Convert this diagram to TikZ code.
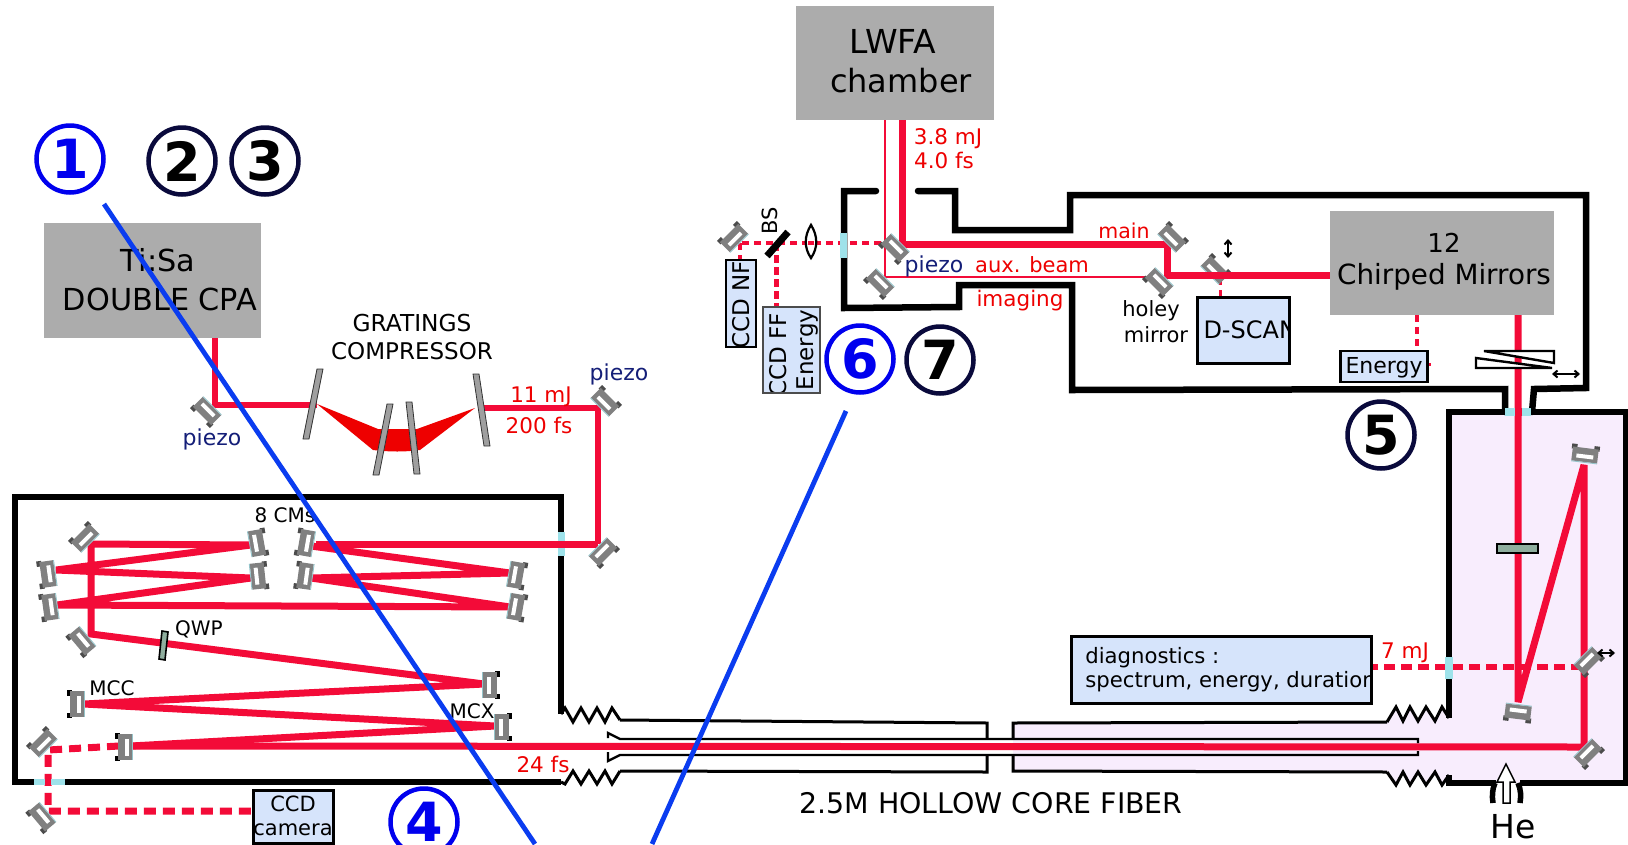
\documentclass[tikz,border=0pt]{standalone}
\usepackage{fontspec}
\setmainfont{DejaVu Sans}
\usetikzlibrary{arrows.meta,calc}
\definecolor{beam}{HTML}{F30B38}
\definecolor{lab}{HTML}{EE0000}
\definecolor{navy}{HTML}{141E78}
\definecolor{boxgray}{HTML}{ACACAC}
\definecolor{info}{HTML}{D6E4FB}
\definecolor{win}{HTML}{9EE2EA}
\definecolor{lilac}{HTML}{F8EDFD}
\definecolor{blueln}{HTML}{0A3CF0}
\definecolor{bluec}{HTML}{0000EE}
\definecolor{darkc}{HTML}{0A0A3C}
\definecolor{plate}{HTML}{8FAE9E}
\newcommand{\fs}[1]{\fontsize{#1}{#1}\selectfont}
\newcommand{\mirrorbody}[1]{
  \fill[#1] (-10,-14) rectangle (-5,-8.5);
  \fill[#1] (-10,8.5) rectangle (-5,14);
  \fill[black!50] (-7,-13) rectangle (7,13);
  \fill[white] (-0.5,-8.5) rectangle (3.5,8.5);
  \draw[win!70!gray,line width=0.9pt] (7.4,-13) -- (7.4,13);
}
\tikzset{
  mirror/.pic={\mirrorbody{black!70}},
  mirrorb/.pic={\mirrorbody{black}},
  thickbeam/.style={draw=beam,line width=7pt,line cap=butt,line join=miter,miter limit=2},
  midbeam/.style={draw=beam,line width=6pt},
  thinbeam/.style={draw=beam,line width=2.6pt},
  dashbeam/.style={draw=beam,line width=7pt,dash pattern=on 12pt off 7pt},
  dashmid/.style={draw=beam,line width=5.5pt,dash pattern=on 11pt off 6pt},
  dashthin/.style={draw=beam,line width=3.8pt,dash pattern=on 7pt off 5pt},
  wall/.style={draw=black,line width=6.5pt,line cap=round,line join=miter},
  bellow/.style={draw=black,line width=3pt,line join=miter},
  tube/.style={draw=black,line width=2.4pt,line join=miter},
  window/.style={fill=win,draw=none},
  graybox/.style={fill=boxgray,draw=none,inner sep=0pt,align=center},
  infobox/.style={fill=info,draw=black,line width=3pt,inner sep=0pt,rectangle},
  boxtext/.style={inner sep=0pt,align=center,text=black},
  redtext/.style={text=lab,inner sep=0pt,font=\fs{21.5}},
  blacktext/.style={text=black,inner sep=0pt,align=center},
  navytext/.style={text=navy,inner sep=0pt,font=\fs{22}},
  grating/.style={fill=gray!75,draw=black!80,line width=0.8pt},
  bluecirc/.style={circle,draw=bluec,line width=4.5pt,minimum size=67pt,inner sep=0pt,text=bluec,font=\bfseries\fs{54}},
  darkcirc/.style={circle,draw=darkc,line width=4.5pt,minimum size=67pt,inner sep=0pt,text=black,font=\bfseries\fs{54}},
  blueline/.style={draw=blueln,line width=4.8pt},
  dbl/.style={draw=black,line width=2pt,{Straight Barb[length=4pt,width=7pt]}-{Straight Barb[length=4pt,width=7pt]}},
}
\newcommand{\mir}[5][mirror]{\coordinate (#2) at (#3,#4); \pic[rotate=#5] at (#2) {#1};}
\begin{document}
\begin{tikzpicture}[x=1pt,y=-1pt]
\useasboundingbox (0,0) rectangle (1628,844);
\fill[white] (0,0) rectangle (1628,844);

% ---- lilac chamber fill ----
\fill[lilac] (1449,412) -- (1626,412) -- (1626,783) -- (1449,783) -- (1449,775) -- (1442,785) -- (1435,772) -- (1426,785) -- (1418,772) -- (1410,785) -- (1403,772) -- (1396,785) -- (1387,772) -- (1013,771) -- (1013,723) -- (1387,722) -- (1396,707) -- (1403,721) -- (1410,707) -- (1418,721) -- (1426,707) -- (1435,721) -- (1442,707) -- (1449,718) -- cycle;

% ---- boxes ----
\node[graybox,minimum width=198pt,minimum height=114pt] (lwfa) at (895,63) {};
\node[graybox,minimum width=217pt,minimum height=115pt] (tisa) at (152.5,280.5) {};
\node[graybox,minimum width=224pt,minimum height=104pt] (cm12) at (1442,263) {};

% ---- beam vertex coordinates ----
\coordinate (pA) at (215,405);
\coordinate (g1) at (317,405);
\coordinate (g4) at (482,408);
\coordinate (pB) at (598,408);
\coordinate (pC) at (598,544);
\coordinate (w1) at (316,544);
\coordinate (c3) at (311,546);
\coordinate (c7) at (510,573);
\coordinate (c6) at (311,578);
\coordinate (c9) at (510,607);
\coordinate (c8) at (57,605);
\coordinate (c5) at (251,578);
\coordinate (c4) at (56,570);
\coordinate (c2) at (251,545);
\coordinate (c1) at (91,544);
\coordinate (c10) at (91,634);
\coordinate (x1) at (484,684);
\coordinate (mc) at (84,704);
\coordinate (x2) at (495,726);
\coordinate (f0) at (131,746);
\coordinate (f1) at (1584,747);
\coordinate (r1) at (1584,465);
\coordinate (r2) at (1518,702);
\coordinate (u1) at (902,244);
\coordinate (u2) at (1167,244);
\coordinate (u3) at (1167,275);
\coordinate (t1) at (885,277);
\coordinate (t2) at (1162,277);
\coordinate (d0) at (742,243);
\coordinate (d1) at (893,243);
\coordinate (d2) at (740,243);
\coordinate (d3) at (776,243);
\coordinate (e1) at (119,746);
\coordinate (e2) at (48,750);
\coordinate (e3) at (48,811);
\coordinate (g7a) at (1371,667);
\coordinate (g7b) at (1582,667);

% ---- info boxes (drawn later) need names for connectors ----
\node[infobox,minimum width=80pt,minimum height=53pt] (ccdcam) at (293,816.5)
  [path picture={\node[boxtext,font=\fs{21},text width=90pt] at ([xshift=0pt,yshift=1pt]path picture bounding box.center) {CCD\\[3pt]camera};}] {};

% ---- beams ----
\draw[midbeam] (tisa.south -| pA) -- (pA) -- (g1);
\draw[midbeam] (g4) -- (pB) -- (pC);
\draw[thickbeam] (pC) -- (w1);
\draw[thickbeam] (c3) -- (c7) -- (c6) -- (c9) -- (c8) -- (c5) -- (c4) -- (c2) -- (c1) -- (c10) -- (x1) -- (mc) -- (x2) -- (f0);
\draw[thickbeam] (f0) -- (f1) -- (r1) -- (r2) -- (r2 |- cm12.south);
\draw[dashbeam] (e1) -- (e2) -- (e3) -- (e3 -| ccdcam.west);
\draw[dashmid] (g7b) -- (g7a);
\draw[dashthin] (d1) -- (d0);
\draw[dashthin] (d2) -- (740,262);
\draw[draw=beam,line width=5pt,dash pattern=on 8pt off 4pt] (d3) -- (776,308);
\draw[thinbeam] (lwfa.south -| t1) -- (t1) -- (t2);
\draw[thickbeam] (lwfa.south -| u1) -- (u1) -- (u2) -- (u3) -- (u3 -| cm12.west);
\draw[dashthin] (1417,315) -- (1417,351);
\draw[dashthin,line width=3pt] (1220,278) -- (1220,297);

% ---- compressor ----
\fill[lab] (317,404) -- (378,429) -- (417,429) -- (475,408) -- (420,450) .. controls (405,452) and (390,452) .. (373,450) -- cycle;
\draw[grating] (323,369) -- (317,369) -- (303,439) -- (309,439) -- cycle;
\draw[grating] (393,404) -- (387,404) -- (373,475) -- (379,475) -- cycle;
\draw[grating] (412,402) -- (406,402) -- (414,474) -- (420,474) -- cycle;
\draw[grating] (479,374) -- (473,374) -- (484,446) -- (490,446) -- cycle;

% ---- mirrors ----
\mir{mPa}{207}{411}{45}
\mir{mPb}{605}{402}{225}
\mir{mW}{603}{552}{135}
\mir{mA}{85}{538}{-45}
\mir{mB}{257}{543}{190}
\mir{mC}{306}{543}{-10}
\mir{mD}{48}{574}{8}
\mir{mE}{258}{576}{186}
\mir{mF}{305}{576}{-8}
\mir{mG}{516}{575}{170}
\mir{mH}{50}{607}{8}
\mir{mI}{516}{607}{170}
\mir{mJ}{82}{641}{40}
\mir[mirrorb]{mK}{77}{704}{0}
\mir[mirrorb]{mL}{490}{685}{180}
\mir[mirrorb]{mM}{502}{727}{180}
\mir[mirrorb]{mN}{125}{747}{0}
\mir{mO}{43}{743}{-45}
\mir{mP}{42}{817}{40}
\mir{mQ}{734}{238}{-45}
\mir{mR}{895}{248}{45}
\mir{mS}{880}{283}{45}
\mir{mT}{1172}{238}{225}
\mir{mU}{1159}{282}{45}
\mir{mV}{1215}{270}{225}
\draw[thickbeam] (1195,275) -- (1240,275);
\mir{mX}{1585}{455}{-97}
\mir{mY}{1518}{712}{83}
\mir{mZ}{1588}{661}{135}
\mir{mAA}{1588}{753}{135}

% ---- small optics ----
\draw[draw=black,fill=plate,line width=1.6pt] (163,645) ++(-1,-14) -- ++(6,1) -- ++(-3,28) -- ++(-6,-1) -- cycle;
\draw[black,fill=plate,line width=2.4pt] (1497,544) rectangle (1538,553);
\draw[black,line width=7pt] (767,256) -- (788,232);
\draw[black,fill=white,line width=2.2pt] (811,225) .. controls (804,236) and (804,248) .. (811,258) .. controls (818,248) and (818,236) .. (811,225) -- cycle;
\fill[black] (811,225) circle (1.4);
\fill[black] (811,258) circle (1.4);
\draw[dashthin] (808,243) -- (814,243);
% wedges
\draw[black,fill=white,line width=2.4pt] (1484,351) -- (1554,351) -- (1554,363) -- cycle;
\draw[black,fill=white,line width=2.4pt] (1476,358) -- (1476,368) -- (1552,368) -- cycle;
\draw[dbl] (1552,374) -- (1580,374);
\draw[dbl] (1597,653) -- (1615,653);
\draw[dbl] (1228,239) -- (1228,258);

% ---- fiber ----
\draw[bellow] (561,714) -- (565,708) -- (573,722) -- (581,708) -- (589,722) -- (597,708) -- (605,722) -- (612,708) -- (620,720);
\draw[bellow] (561,782) -- (565,784) -- (573,771) -- (581,784) -- (589,771) -- (597,784) -- (605,771) -- (612,784) -- (620,771);
\draw[tube,line width=3pt] (620,720) -- (987,723) -- (987,739);
\draw[tube,line width=3pt] (620,771) -- (987,772) -- (987,755);
\draw[tube] (608,738) -- (608,733) -- (620,739) -- (1418,739) -- (1418,743);
\draw[tube] (608,752) -- (608,761) -- (620,755) -- (1418,755) -- (1418,751);
\draw[tube,line width=3pt] (1387,722) -- (1013,723) -- (1013,739);
\draw[tube,line width=3pt] (1387,772) -- (1013,771) -- (1013,755);
\draw[bellow] (1387,722) -- (1396,707) -- (1403,721) -- (1410,707) -- (1418,721) -- (1426,707) -- (1435,721) -- (1442,707) -- (1449,718);
\draw[bellow] (1387,772) -- (1396,785) -- (1403,772) -- (1410,785) -- (1418,772) -- (1426,785) -- (1435,772) -- (1442,785) -- (1449,775);

% ---- chamber walls ----
\draw[wall,line cap=butt] (561,714) -- (561,497) -- (15,497) -- (15,782) -- (561,782);
\draw[wall] (876,191) -- (844,191) -- (844,308) -- (959,307) -- (959,285) -- (1072,285) -- (1072,390) -- (1505,389) -- (1505,412);
\draw[wall] (918,191) -- (955,191) -- (955,230) -- (1070,230) -- (1070,195) -- (1586,195) -- (1586,388) -- (1534,389) -- (1532,412);
\draw[wall,line cap=butt] (1449,718) -- (1449,412) -- (1626,412) -- (1626,783) -- (1520,783);
\draw[wall,line cap=butt] (1496,783) -- (1449,783) -- (1449,775);
\draw[black,line width=5.5pt] (1495,783) .. controls (1492,790) and (1492,796) .. (1493,803);
\draw[black,line width=5.5pt] (1518,783) .. controls (1521,790) and (1521,796) .. (1520,803);
\draw[black,fill=white,line width=1.5pt] (1506,764) -- (1515,782) -- (1510,782) -- (1510,803) -- (1503,803) -- (1503,782) -- (1497,782) -- cycle;

% ---- windows ----
\fill[window] (558,532) rectangle (565,556);
\fill[window] (34,779) rectangle (65,785);
\fill[window] (840,233) rectangle (847,258);
\fill[window] (1505,408) rectangle (1531,416);
\fill[window] (1445,657) rectangle (1453,679);
\draw[draw=beam,line width=5.5pt] (1453,667) -- (1461,667);
\draw[draw=beam,line width=6pt,dash pattern=on 11pt off 6pt] (47.5,775) -- (47.5,790);
\draw[thickbeam] (1518,408) -- (1518,416);
\draw[thickbeam] (558,544) -- (565,544);

% ---- info boxes ----
\node[infobox,minimum width=92pt,minimum height=66pt] (dscan) at (1243,330)
  [path picture={\node[boxtext,font=\fs{24},anchor=west] at ([xshift=5pt]path picture bounding box.west) {D-SCAN};}] {};
\draw[dashthin,line width=3pt] (1428,364) -- (1431,364);
\node[infobox,line width=2.6pt,minimum width=87pt,minimum height=31pt] (energy) at (1384,366.5)
  [path picture={\node[boxtext,font=\fs{22}] at ([yshift=-1pt]path picture bounding box.center) {Energy};}] {};
\node[infobox,minimum width=300pt,minimum height=67pt] (diag) at (1221,669.5)
  [path picture={\node[boxtext,font=\fs{21.2},align=left,anchor=west] at ([xshift=8pt]path picture bounding box.west) {diagnostics :\\[3pt]spectrum, energy, duration};}] {};
\node[infobox,line width=2.6pt,minimum width=30pt,minimum height=87pt] (ccdnf) at (741,303.5)
  [path picture={\node[boxtext,font=\fs{23},rotate=90,anchor=west] at ([yshift=-3pt]path picture bounding box.south) {CCD NF};}] {};
\node[infobox,line width=2.6pt,minimum width=57pt,minimum height=86pt,draw=black!70] (ccdff) at (791.5,350)
  [path picture={\node[boxtext,font=\fs{23},rotate=90,anchor=west] at ([xshift=-13pt,yshift=-5pt]path picture bounding box.south) {CCD FF};
                 \node[boxtext,font=\fs{23},rotate=90] at ([xshift=16pt]path picture bounding box.center) {Energy};}] {};

% ---- texts ----
\node[blacktext,font=\fs{33}] (tlwfa) at (893,41) {LWFA};
\node[blacktext,font=\fs{32}] (tchamb) at (901,81) {chamber};
\node[blacktext,font=\fs{30.3}] (ttisa) at (158,260) {Ti:Sa};
\node[blacktext,font=\fs{30.3}] (tcpa) at (160,299) {DOUBLE CPA};
\node[blacktext,font=\fs{26}] (t12) at (1444,243) {12};
\node[blacktext,font=\fs{27.8}] (tcm) at (1444,277) {Chirped Mirrors};
\node[blacktext,font=\fs{23.3}] (tgr) at (412,323) {GRATINGS};
\node[blacktext,font=\fs{23}] (tcomp) at (412,351) {COMPRESSOR};
\node[blacktext,font=\fs{20}] (t8cm) at (285,515) {8 CMs};
\node[blacktext,font=\fs{20}] (tqwp) at (199,629) {QWP};
\node[blacktext,font=\fs{20}] (tmcc) at (112,688) {MCC};
\node[blacktext,font=\fs{20}] (tmcx) at (472,711) {MCX};
\node[blacktext,font=\fs{21},rotate=90] (tbs) at (770,221) {BS};
\node[blacktext,font=\fs{21}] (thol) at (1151,311) {holey};
\node[blacktext,font=\fs{21}] (tmir) at (1156,335) {mirror};
\node[blacktext,font=\fs{28.4}] (tfib) at (991,803) {2.5M HOLLOW CORE FIBER};
\node[blacktext,font=\fs{33}] (the) at (1513,827) {He};
\node[navytext] (pz1) at (212,439) {piezo};
\node[navytext] (pz2) at (619,374) {piezo};
\node[navytext] (pz3) at (934,266) {piezo};
\node[redtext] (r11) at (541,397) {11 mJ};
\node[redtext] (r200) at (539,425) {200 fs};
\node[redtext] (r24) at (543,764) {24 fs};
\node[redtext] (r7) at (1405,653) {7 mJ};
\node[redtext] (r38) at (948,139) {3.8 mJ};
\node[redtext] (r40) at (944,160) {4.0 fs};
\node[redtext,font=\fs{20.5}] (rmain) at (1124,231) {main};
\node[redtext,font=\fs{21}] (raux) at (1032,265) {aux. beam};
\node[redtext] (rimg) at (1020,301) {imaging};

% ---- blue lines ----
\draw[blueline] (104,204) -- (535,844);
\draw[blueline] (846,411) -- (652,844);

% ---- circles ----
\node[bluecirc] (n1) at (70,159) {1};
\node[darkcirc] (n2) at (182,161) {2};
\node[darkcirc] (n3) at (265,161) {3};
\node[bluecirc] (n4) at (424,822) {4};
\node[darkcirc] (n5) at (1381,435) {5};
\node[bluecirc] (n6) at (860,359) {6};
\node[darkcirc] (n7) at (940,360) {7};
\end{tikzpicture}
\end{document}
